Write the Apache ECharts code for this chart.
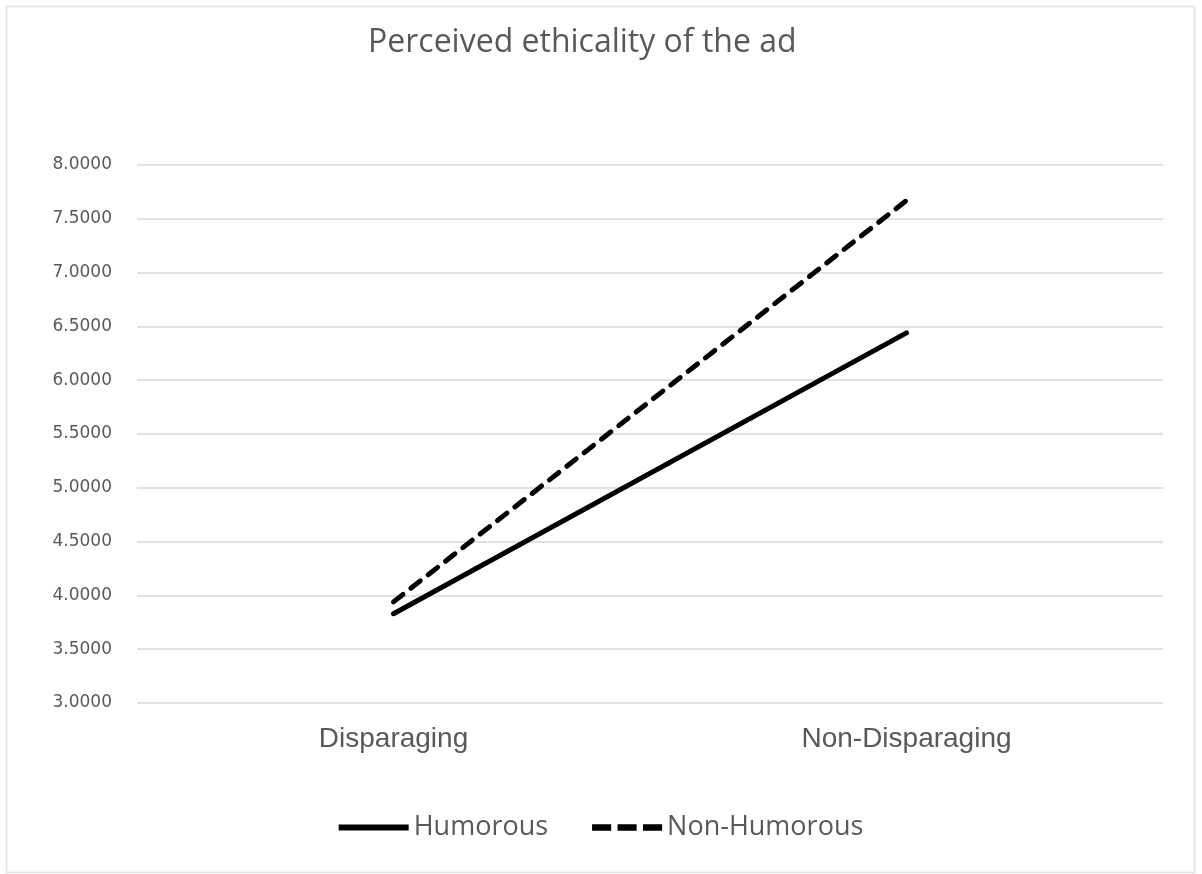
<!DOCTYPE html>
<html>
<head>
<meta charset="utf-8">
<script src="https://cdn.jsdelivr.net/npm/echarts@6/dist/echarts.min.js"></script>
<style>
html,body{margin:0;padding:0;background:#fff;}
#main{width:1202px;height:874px;}
</style>
</head>
<body>
<div id="main"></div>
<script>
const categories = ["Disparaging", "Non-Disparaging"];
const humorous = [3.83, 6.44];
const nonHumorous = [3.94, 7.67];
const yTicks = { min: 3, max: 8, interval: 0.5 };

const chart = echarts.init(document.getElementById('main'));
chart.setOption({
  backgroundColor: '#fff',
  animation: false,
  graphic: [{
    type: 'rect', left: 4, top: 4,
    shape: { width: 1188, height: 866 },
    style: { fill: 'none', stroke: '#e4e4e4', lineWidth: 1.5 }
  }],
  title: {
    text: 'Perceived ethicality of the ad',
    left: 363, top: 22,
    textStyle: { fontFamily: 'Open Sans', fontWeight: 'normal', fontSize: 32, color: '#595959' }
  },
  grid: { left: 137, right: 39, top: 165, bottom: 171 },
  xAxis: {
    type: 'category', data: categories, boundaryGap: true,
    axisLine: { show: false }, axisTick: { show: false },
    axisLabel: { fontFamily: 'Liberation Sans Narrow, Liberation Sans', fontSize: 28, color: '#595959', margin: 22 }
  },
  yAxis: {
    type: 'value', min: yTicks.min, max: yTicks.max, interval: yTicks.interval,
    axisLine: { show: false }, axisTick: { show: false },
    splitLine: { lineStyle: { color: '#d9d9d9', width: 1.5 } },
    axisLabel: { fontFamily: 'DejaVu Sans', fontSize: 17, color: '#595959', margin: 25,
      formatter: v => v.toFixed(4) }
  },
  legend: {
    bottom: 28, left: 'center', itemWidth: 70, itemHeight: 10, itemGap: 44,
    textStyle: { fontFamily: 'Open Sans', fontSize: 27, color: '#595959' },
    data: [
      { name: 'Humorous', icon: 'path://M0,0H70V6H0Z' },
      { name: 'Non-Humorous', icon: 'path://M0,0H18V6H0ZM24,0H42V6H24ZM48,0H66V6H48Z' }
    ]
  },
  series: [
    { name: 'Humorous', type: 'line', data: humorous, symbol: 'none',
      itemStyle: { color: '#000' },
      lineStyle: { color: '#000', width: 5, cap: 'round' } },
    { name: 'Non-Humorous', type: 'line', data: nonHumorous, symbol: 'none',
      itemStyle: { color: '#000' },
      lineStyle: { color: '#000', width: 5, type: [12, 10], cap: 'round' } }
  ]
});
</script>
</body>
</html>
